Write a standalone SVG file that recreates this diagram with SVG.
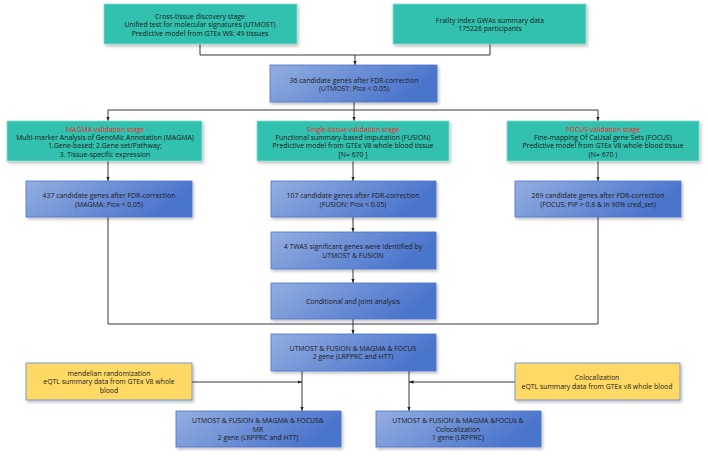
<svg xmlns="http://www.w3.org/2000/svg" width="708" height="457" viewBox="0 0 708 457">
<defs>
<linearGradient id="blue" x1="0" y1="0" x2="1" y2="0.3">
<stop offset="0" stop-color="#93AEE0"/>
<stop offset="1" stop-color="#4A74CC"/>
</linearGradient>
<filter id="sh" x="-10%" y="-20%" width="125%" height="150%">
<feDropShadow dx="1.5" dy="2" stdDeviation="1.5" flood-color="#000" flood-opacity="0.25"/>
</filter>
<marker id="arr" viewBox="0 0 10 10" refX="10" refY="5" markerWidth="5" markerHeight="5" orient="auto">
<path d="M0,1 L10,5 L0,9 z" fill="#222"/>
</marker>
</defs>
<style>
text{font-family:"Open Sans","Noto Sans","DejaVu Sans",sans-serif;font-size:6.9px;fill:#1a1a1a;text-anchor:middle}
.teal{fill:#33C0AF;stroke:#8BDCD2;stroke-width:0.8;filter:url(#sh)}
.blue{fill:url(#blue);stroke:#4A74CC;stroke-width:0.8;filter:url(#sh)}
.yel{fill:#FFD966;stroke:#5B8BD6;stroke-width:0.8;filter:url(#sh)}
.red{fill:#E8262A}
.sub{font-size:4.8px}
.ln{fill:none;stroke:#222;stroke-width:0.9}
</style>
<g id="connectors">
<path class="ln" d="M200,44 V55 H490 V44"/>
<path class="ln" d="M355,55 V65" marker-end="url(#arr)"/>
<path class="ln" d="M354,102 V121" marker-end="url(#arr)"/>
<path class="ln" d="M108,110 H598"/>
<path class="ln" d="M108,110 V121" marker-end="url(#arr)"/>
<path class="ln" d="M598,110 V121" marker-end="url(#arr)"/>
<path class="ln" d="M108,161 V181" marker-end="url(#arr)"/>
<path class="ln" d="M353,161 V181" marker-end="url(#arr)"/>
<path class="ln" d="M598,161 V181" marker-end="url(#arr)"/>
<path class="ln" d="M353,217 V232" marker-end="url(#arr)"/>
<path class="ln" d="M353,269 V283" marker-end="url(#arr)"/>
<path class="ln" d="M353,319 V334" marker-end="url(#arr)"/>
<path class="ln" d="M108,217 V324 H598 V217"/>
<path class="ln" d="M302,371 V411" marker-end="url(#arr)"/>
<path class="ln" d="M409,371 V411" marker-end="url(#arr)"/>
<path class="ln" d="M192,382 H302" marker-end="url(#arr)"/>
<path class="ln" d="M515,382 H409" marker-end="url(#arr)"/>
</g>
<g id="n-utmost-discovery">
<rect class="teal" x="104" y="4" width="193" height="40"/>
<text x="200" y="18.5">Cross-tissue discovery stage</text>
<text x="200" y="27">Unified test for molecular signatures (UTMOST)</text>
<text x="200" y="35.5">Predictive model from GTEx W8: 49 tissues</text>
</g>
<g id="n-gwas">
<rect class="teal" x="393" y="4" width="193" height="40"/>
<text x="490" y="22.5">Frailty Index GWAs summary data</text>
<text x="490" y="31">175226 participants</text>
</g>
<g id="n-36">
<rect class="blue" x="270" y="65" width="167" height="37"/>
<text x="354" y="82.5">36 candidate genes after FDR-correction</text>
<text x="354" y="90.5">(UTMOST: P<tspan class="sub">FDR</tspan> &lt; 0.05)</text>
</g>
<g id="n-magma">
<rect class="teal" x="7" y="121" width="195" height="40"/>
<text x="105" y="131.8" class="red">MAGMA validation stage</text>
<text x="105" y="140">Multi-marker Analysis of GenoMic Annotation (MAGMA)</text>
<text x="105" y="148.3">1.Gene-based; 2.Gene set/Pathway;</text>
<text x="105" y="156.5">3. Tissue-specific expression</text>
</g>
<g id="n-fusion">
<rect class="teal" x="257" y="121" width="192" height="40"/>
<text x="353" y="131.8" class="red">Single-tissue validation stage</text>
<text x="353" y="140">Functional summary-based imputation (FUSION)</text>
<text x="353" y="148.3">Predictive model from GTEx V8 whole blood tissue</text>
<text x="353" y="156.5">[N= 670 ]</text>
</g>
<g id="n-focus">
<rect class="teal" x="507" y="121" width="192" height="40"/>
<text x="603" y="131.8" class="red">FOCUS validation stage</text>
<text x="603" y="140">Fine-mapping Of CaUsal gene Sets (FOCUS)</text>
<text x="603" y="148.3">Predictive model from GTEx V8 whole blood tissue</text>
<text x="603" y="156.5">(N= 670 )</text>
</g>
<g id="n-437">
<rect class="blue" x="26" y="181" width="166" height="36"/>
<text x="109" y="198">437 candidate genes after FDR-correction</text>
<text x="109" y="206.5">(MAGMA: P<tspan class="sub">FDR</tspan> &lt; 0.05)</text>
</g>
<g id="n-107">
<rect class="blue" x="271" y="181" width="165" height="36"/>
<text x="353" y="198">107 candidate genes after FDR-correction</text>
<text x="353" y="206.5">(FUSION: P<tspan class="sub">FDR</tspan> &lt; 0.05)</text>
</g>
<g id="n-269">
<rect class="blue" x="515" y="181" width="166" height="36"/>
<text x="598" y="198">269 candidate genes after FDR-correction</text>
<text x="598" y="206.5">(FOCUS: PIP &gt; 0.8 &amp; in 90% cred_set)</text>
</g>
<g id="n-twas">
<rect class="blue" x="271" y="232" width="165" height="37"/>
<text x="353" y="249">4 TWAS significant genes were identified by</text>
<text x="353" y="257.5">UTMOST &amp; FUSION</text>
</g>
<g id="n-cond">
<rect class="blue" x="271" y="283" width="165" height="36"/>
<text x="353" y="303.5">Conditional and joint analysis</text>
</g>
<g id="n-all">
<rect class="blue" x="271" y="334" width="165" height="37"/>
<text x="353" y="351">UTMOST &amp; FUSION &amp; MAGMA &amp; FOCUS</text>
<text x="353" y="359.3">2 gene (LRPPRC and HTT)</text>
</g>
<g id="n-mr-data">
<rect class="yel" x="26" y="363" width="166" height="37"/>
<text x="109" y="376">mendelian randomization</text>
<text x="109" y="384.3">eQTL summary data from GTEx V8 whole</text>
<text x="109" y="392.6">blood</text>
</g>
<g id="n-coloc-data">
<rect class="yel" x="515" y="363" width="165" height="37"/>
<text x="597" y="380">Colocalization</text>
<text x="597" y="388.5">eQTL summary data from GTEx v8 whole blood</text>
</g>
<g id="n-mr">
<rect class="blue" x="176" y="411" width="165" height="36"/>
<text x="258" y="423">UTMOST &amp; FUSION &amp; MAGMA &amp; FOCUS&amp;</text>
<text x="258" y="431.5">MR</text>
<text x="258" y="440">2 gene (LRPPRC and HTT)</text>
</g>
<g id="n-coloc">
<rect class="blue" x="376" y="411" width="165" height="36"/>
<text x="458" y="423">UTMOST &amp; FUSION &amp; MAGMA &amp;FOCUs &amp;</text>
<text x="458" y="431.5">Colocalization</text>
<text x="458" y="440">1 gene (LRPPRC)</text>
</g>
</svg>
